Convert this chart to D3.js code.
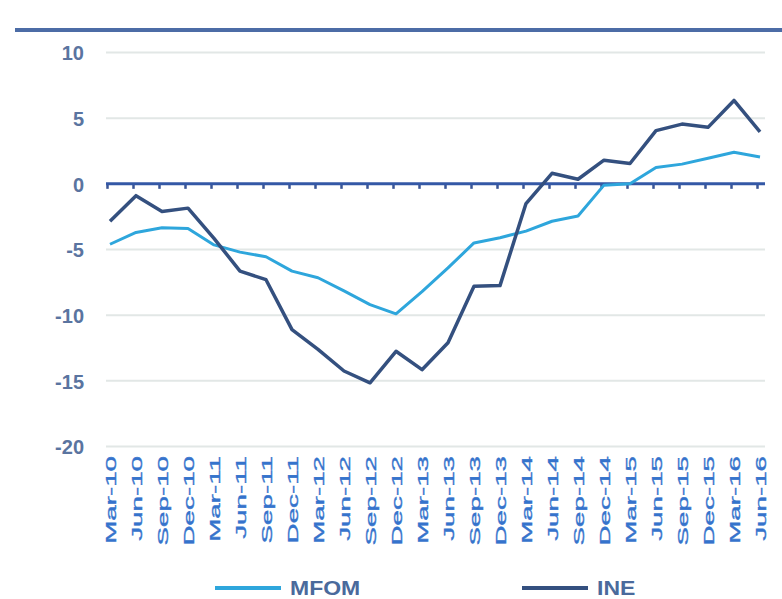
<!DOCTYPE html>
<html>
<head>
<meta charset="utf-8">
<script src="https://cdn.jsdelivr.net/npm/d3@7/dist/d3.min.js"></script>
<style>
  html, body { margin: 0; padding: 0; background: #ffffff; }
  svg { display: block; }
</style>
</head>
<body>
<svg id="chart" width="782" height="599"></svg>
<script>
// Quarterly categories
const quarters = [
  "Mar-10","Jun-10","Sep-10","Dec-10",
  "Mar-11","Jun-11","Sep-11","Dec-11",
  "Mar-12","Jun-12","Sep-12","Dec-12",
  "Mar-13","Jun-13","Sep-13","Dec-13",
  "Mar-14","Jun-14","Sep-14","Dec-14",
  "Mar-15","Jun-15","Sep-15","Dec-15",
  "Mar-16","Jun-16"
];

// Year-on-year change, %
const mfomValues = [
  -4.6, -3.7, -3.35, -3.4,
  -4.65, -5.2, -5.55, -6.65,
  -7.15, -8.15, -9.2, -9.9,
  -8.2, -6.4, -4.5, -4.1,
  -3.6, -2.85, -2.45, -0.1,
  0.0, 1.25, 1.5, 1.95,
  2.4, 2.05
];
const ineValues = [
  -2.85, -0.9, -2.1, -1.85,
  -4.15, -6.65, -7.3, -11.1,
  -12.6, -14.25, -15.15, -12.75,
  -14.15, -12.1, -7.8, -7.75,
  -1.5, 0.8, 0.35, 1.8,
  1.55, 4.05, 4.55, 4.3,
  6.35, 3.95
];

const yTicks = [10, 5, 0, -5, -10, -15, -20];

const seriesNames = ["MFOM", "INE"];
const seriesColors = ["#2ea6dc", "#34507f"];

const svg = d3.select("#chart");

const x = d3.scalePoint().domain(quarters).range([110, 760]);
const y = d3.scaleLinear().domain([-20, 10]).range([446.5, 52.5]);

const gridLeft = 106, gridRight = 765;

// Rule across the top of the panel
svg.append("line")
  .attr("x1", 15).attr("x2", 782)
  .attr("y1", 30).attr("y2", 30)
  .attr("stroke", "#4c6ca6").attr("stroke-width", 4);

// Horizontal gridlines
svg.append("g").selectAll("line")
  .data(yTicks.filter(d => d !== 0))
  .join("line")
  .attr("x1", gridLeft).attr("x2", gridRight)
  .attr("y1", d => y(d)).attr("y2", d => y(d))
  .attr("stroke", "#e2e7e6").attr("stroke-width", 2);

// Y-axis labels (plain hyphen for negatives)
const yAxis = d3.axisLeft(y).tickValues(yTicks).tickSize(0).tickPadding(0)
  .tickFormat(d => String(d));
const yG = svg.append("g").attr("transform", "translate(84,0)").call(yAxis);
yG.select(".domain").remove();
yG.selectAll("text")
  .attr("font-family", "Liberation Sans, Arial, sans-serif")
  .attr("font-size", 20)
  .attr("font-weight", "bold")
  .attr("fill", "#5a74a0")
  .attr("dy", "0.36em");

// Zero axis with category ticks
const xAxis = d3.axisBottom(x).tickSize(5).tickFormat("");
const xG = svg.append("g").attr("transform", `translate(0,${y(0)})`).call(xAxis);
xG.select(".domain").remove();
xG.selectAll(".tick line").attr("stroke", "#3a5595").attr("stroke-width", 2.5)
  .attr("transform", "translate(-3,0)");
svg.append("line")
  .attr("x1", gridLeft).attr("x2", gridRight)
  .attr("y1", y(0)).attr("y2", y(0))
  .attr("stroke", "#3458a6").attr("stroke-width", 3);

// Rotated category labels below the plot
svg.append("g").selectAll("text")
  .data(quarters)
  .join("text")
  .attr("transform", d => `translate(${x(d) + 5.5},456) rotate(-90) scale(1.85,1)`)
  .attr("text-anchor", "end")
  .attr("font-family", "Liberation Sans, Arial, sans-serif")
  .attr("font-size", 15)
  .attr("fill", "#3573cc")
  .attr("stroke", "#3573cc")
  .attr("stroke-width", 0.35)
  .text(d => d);

// Series lines
const line = d3.line().x((d, i) => x(quarters[i])).y(d => y(d));
[mfomValues, ineValues].forEach((vals, k) => {
  svg.append("path")
    .datum(vals)
    .attr("fill", "none")
    .attr("stroke", seriesColors[k])
    .attr("stroke-width", k === 0 ? 3 : 3.5)
    .attr("stroke-linejoin", "round")
    .attr("d", line);
});

// Legend
const legendX = [215, 522];
const legend = svg.append("g").selectAll("g")
  .data(seriesNames)
  .join("g")
  .attr("transform", (d, i) => `translate(${legendX[i]},588)`);
legend.append("line")
  .attr("x1", 0).attr("x2", 66).attr("y1", 0).attr("y2", 0)
  .attr("stroke", (d, i) => seriesColors[i]).attr("stroke-width", 4);
legend.append("text")
  .attr("transform", "translate(75,7) scale(1.15,1)")
  .attr("font-family", "Liberation Sans, Arial, sans-serif")
  .attr("font-size", 20)
  .attr("font-weight", "bold")
  .attr("fill", "#4a6a9c")
  .text(d => d);
</script>
</body>
</html>
